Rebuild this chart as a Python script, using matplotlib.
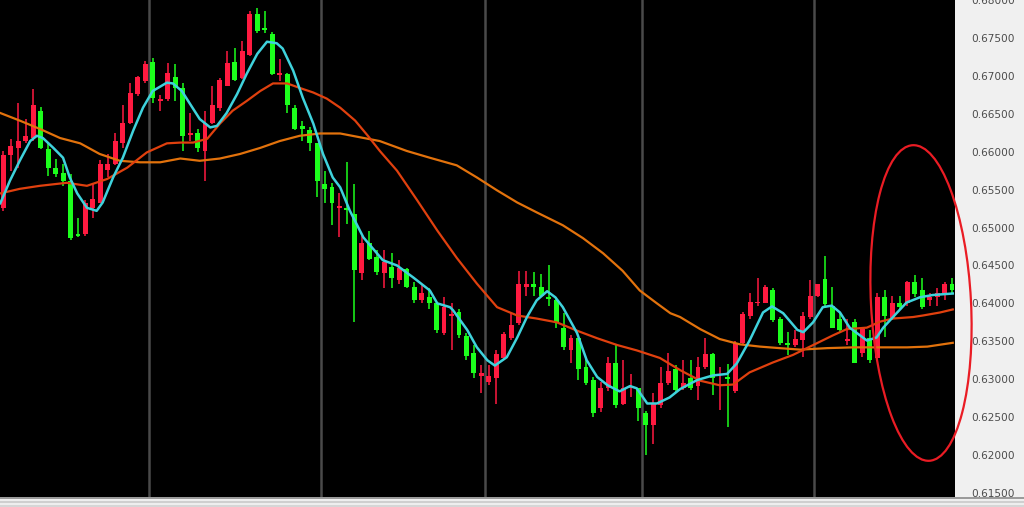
import numpy as np
import matplotlib
matplotlib.use("Agg")
import matplotlib.pyplot as plt
from matplotlib.patches import Ellipse
from matplotlib.lines import Line2D
from matplotlib.ticker import FuncFormatter

# OHLC per bar
opens = [0.6526, 0.6595, 0.6605, 0.6614, 0.6618, 0.6654, 0.6604, 0.6579, 0.6572, 0.6562,
         0.6492, 0.6492, 0.6526, 0.6533, 0.6576, 0.6584, 0.6612, 0.6638, 0.6676, 0.6693,
         0.6718, 0.6667, 0.6670, 0.6699, 0.6684, 0.6622, 0.6624, 0.6601, 0.6638, 0.6657,
         0.6687, 0.6718, 0.6697, 0.6728, 0.6782, 0.6763, 0.6755, 0.6701, 0.6703, 0.6658,
         0.6634, 0.6629, 0.6611, 0.6558, 0.6553, 0.6526, 0.6526, 0.6518, 0.6440, 0.6479,
         0.6461, 0.6440, 0.6448, 0.6431, 0.6445, 0.6421, 0.6404, 0.6409, 0.6400, 0.6361,
         0.6383, 0.6388, 0.6357, 0.6334, 0.6304, 0.6296, 0.6302, 0.6328, 0.6355, 0.6374,
         0.6421, 0.6425, 0.6421, 0.6408, 0.6405, 0.6368, 0.6338, 0.6354, 0.6316, 0.6299,
         0.6262, 0.6289, 0.6322, 0.6267, 0.6288, 0.6288, 0.6255, 0.6240, 0.6266, 0.6295,
         0.6313, 0.6288, 0.6301, 0.6291, 0.6316, 0.6333, 0.6291, 0.6303, 0.6284, 0.6348,
         0.6383, 0.6400, 0.6401, 0.6418, 0.6379, 0.6348, 0.6345, 0.6352, 0.6382, 0.6410,
         0.6432, 0.6397, 0.6380, 0.6350, 0.6375, 0.6334, 0.6354, 0.6328, 0.6409, 0.6380,
         0.6401, 0.6400, 0.6428, 0.6417, 0.6405, 0.6408, 0.6414, 0.6425]
highs = [0.6601, 0.6617, 0.6664, 0.6643, 0.6682, 0.6659, 0.6611, 0.6591, 0.6584, 0.6571,
         0.6513, 0.6536, 0.6559, 0.6589, 0.6597, 0.6625, 0.6661, 0.6691, 0.6700, 0.6720,
         0.6724, 0.6675, 0.6717, 0.6716, 0.6690, 0.6651, 0.6630, 0.6654, 0.6687, 0.6697,
         0.6733, 0.6737, 0.6746, 0.6786, 0.6790, 0.6786, 0.6758, 0.6722, 0.6704, 0.6661,
         0.6641, 0.6632, 0.6612, 0.6575, 0.6559, 0.6545, 0.6586, 0.6558, 0.6489, 0.6495,
         0.6470, 0.6470, 0.6467, 0.6457, 0.6446, 0.6428, 0.6424, 0.6420, 0.6401, 0.6408,
         0.6401, 0.6393, 0.6361, 0.6345, 0.6319, 0.6319, 0.6338, 0.6362, 0.6387, 0.6443,
         0.6443, 0.6441, 0.6439, 0.6451, 0.6409, 0.6387, 0.6358, 0.6355, 0.6329, 0.6303,
         0.6296, 0.6329, 0.6347, 0.6325, 0.6307, 0.6289, 0.6258, 0.6282, 0.6316, 0.6334,
         0.6319, 0.6325, 0.6325, 0.6329, 0.6354, 0.6335, 0.6316, 0.6320, 0.6351, 0.6388,
         0.6414, 0.6434, 0.6424, 0.6420, 0.6382, 0.6362, 0.6365, 0.6388, 0.6431, 0.6426,
         0.6463, 0.6421, 0.6387, 0.6380, 0.6380, 0.6368, 0.6365, 0.6414, 0.6417, 0.6410,
         0.6410, 0.6430, 0.6437, 0.6434, 0.6414, 0.6420, 0.6428, 0.6433]
lows = [0.6522, 0.6575, 0.6579, 0.6612, 0.6614, 0.6604, 0.6568, 0.6566, 0.6555, 0.6484,
        0.6487, 0.6489, 0.6513, 0.6532, 0.6566, 0.6582, 0.6605, 0.6637, 0.6674, 0.6691,
        0.6664, 0.6654, 0.6667, 0.6667, 0.6601, 0.6614, 0.6599, 0.6562, 0.6637, 0.6654,
        0.6686, 0.6693, 0.6696, 0.6726, 0.6757, 0.6757, 0.6701, 0.6693, 0.6651, 0.6628,
        0.6614, 0.6601, 0.6540, 0.6532, 0.6503, 0.6487, 0.6505, 0.6375, 0.6431, 0.6457,
        0.6437, 0.6420, 0.6420, 0.6426, 0.6420, 0.6400, 0.6400, 0.6393, 0.6361, 0.6358,
        0.6338, 0.6354, 0.6325, 0.6301, 0.6282, 0.6292, 0.6267, 0.6325, 0.6352, 0.6371,
        0.6410, 0.6410, 0.6408, 0.6397, 0.6368, 0.6338, 0.6321, 0.6299, 0.6292, 0.6250,
        0.6257, 0.6285, 0.6262, 0.6266, 0.6276, 0.6245, 0.6200, 0.6215, 0.6262, 0.6292,
        0.6283, 0.6286, 0.6286, 0.6273, 0.6314, 0.6279, 0.6259, 0.6237, 0.6282, 0.6345,
        0.6380, 0.6396, 0.6400, 0.6375, 0.6345, 0.6332, 0.6342, 0.6329, 0.6380, 0.6408,
        0.6397, 0.6367, 0.6361, 0.6345, 0.6321, 0.6329, 0.6322, 0.6325, 0.6356, 0.6378,
        0.6393, 0.6397, 0.6408, 0.6393, 0.6397, 0.6397, 0.6404, 0.6414]
closes = [0.6595, 0.6608, 0.6614, 0.6621, 0.6661, 0.6605, 0.6579, 0.6571, 0.6562, 0.6486,
          0.6489, 0.6533, 0.6537, 0.6584, 0.6584, 0.6614, 0.6638, 0.6678, 0.6699, 0.6716,
          0.6671, 0.6670, 0.6704, 0.6684, 0.6621, 0.6625, 0.6605, 0.6638, 0.6661, 0.6695,
          0.6717, 0.6695, 0.6733, 0.6782, 0.6759, 0.6761, 0.6703, 0.6704, 0.6661, 0.6630,
          0.6630, 0.6612, 0.6562, 0.6551, 0.6533, 0.6529, 0.6523, 0.6444, 0.6479, 0.6459,
          0.6441, 0.6454, 0.6434, 0.6446, 0.6421, 0.6404, 0.6414, 0.6400, 0.6365, 0.6395,
          0.6386, 0.6358, 0.6330, 0.6308, 0.6308, 0.6304, 0.6333, 0.6360, 0.6372, 0.6426,
          0.6425, 0.6421, 0.6410, 0.6406, 0.6374, 0.6342, 0.6355, 0.6314, 0.6295, 0.6255,
          0.6288, 0.6321, 0.6266, 0.6289, 0.6291, 0.6262, 0.6240, 0.6268, 0.6295, 0.6311,
          0.6286, 0.6295, 0.6288, 0.6316, 0.6333, 0.6301, 0.6293, 0.6300, 0.6348, 0.6386,
          0.6402, 0.6402, 0.6421, 0.6378, 0.6348, 0.6345, 0.6353, 0.6384, 0.6410, 0.6425,
          0.6399, 0.6368, 0.6365, 0.6353, 0.6322, 0.6366, 0.6325, 0.6408, 0.6384, 0.6401,
          0.6395, 0.6428, 0.6413, 0.6395, 0.6408, 0.6414, 0.6425, 0.6417]

# moving averages, sampled along the bar axis
ma_fast_x = [-0.4, 0.9, 2.2, 3.6, 4.5, 5.3, 6.7, 8.0, 8.9, 9.9, 11.2, 12.5, 13.3, 14.7, 16.0,
             17.4, 18.7, 20.0, 21.9, 22.7, 23.9, 25.0, 26.3, 27.7, 28.6, 29.9, 31.3, 32.6,
             34.0, 35.3, 36.6, 37.4, 38.8, 40.1, 41.5, 42.8, 44.1, 45.1, 46.4, 48.2, 50.8,
             52.7, 54.9, 57.1, 58.1, 59.8, 60.2, 62.1, 63.4, 64.8, 65.8, 67.4, 68.8, 70.1,
             71.4, 72.8, 73.9, 74.9, 76.8, 78.1, 79.5, 80.9, 82.5, 83.9, 84.8, 86.2, 87.5,
             89.2, 90.6, 92.9, 95.0, 96.9, 98.2, 99.9, 101.7, 102.9, 104.4, 106.3, 107.1,
             108.4, 109.7, 110.9, 112.0, 113.3, 115.6, 116.9, 117.8, 119.1, 120.9, 122.7,
             124.4, 127.1]
ma_fast = [0.6532, 0.6562, 0.6588, 0.6614, 0.6621, 0.6618, 0.6605, 0.6592, 0.6566, 0.6545,
           0.6526, 0.6522, 0.6533, 0.6566, 0.6592, 0.6628, 0.6658, 0.6680, 0.6691, 0.6690,
           0.6680, 0.6663, 0.6643, 0.6632, 0.6634, 0.6651, 0.6676, 0.6703, 0.6729, 0.6745,
           0.6743, 0.6736, 0.6707, 0.6671, 0.6637, 0.6597, 0.6566, 0.6553, 0.6522, 0.6487,
           0.6457, 0.6450, 0.6434, 0.6417, 0.6400, 0.6395, 0.6391, 0.6365, 0.6342, 0.6325,
           0.6318, 0.6329, 0.6355, 0.6382, 0.6404, 0.6416, 0.6408, 0.6395, 0.6361, 0.6325,
           0.6303, 0.6292, 0.6284, 0.6291, 0.6288, 0.6268, 0.6268, 0.6276, 0.6287, 0.6299,
           0.6305, 0.6307, 0.6321, 0.6351, 0.6388, 0.6396, 0.6387, 0.6365, 0.6362, 0.6375,
           0.6395, 0.6397, 0.6388, 0.6368, 0.6351, 0.6355, 0.6368, 0.6382, 0.6401, 0.6408,
           0.6411, 0.6413]

ma_mid_x = [-0.4, 2.2, 4.9, 8.5, 11.2, 13.9, 16.6, 19.2, 21.9, 23.7, 25.4, 27.3, 29.0, 30.7,
            32.6, 34.4, 36.1, 38.0, 39.7, 41.5, 43.3, 45.1, 47.1, 48.8, 50.4, 52.7, 55.4,
            58.1, 60.7, 63.4, 66.1, 68.8, 71.4, 74.1, 76.8, 79.5, 82.2, 84.8, 87.9, 90.6,
            93.3, 95.9, 97.7, 99.9, 103.0, 105.7, 108.4, 111.1, 112.9, 115.6, 117.4, 119.1,
            121.8, 123.1, 125.4, 127.1]
ma_mid = [0.6545, 0.6551, 0.6555, 0.6559, 0.6555, 0.6564, 0.6579, 0.6599, 0.6611, 0.6612,
          0.6612, 0.6617, 0.6637, 0.6654, 0.6667, 0.6680, 0.6690, 0.6690, 0.6684, 0.6678,
          0.6670, 0.6658, 0.6641, 0.6621, 0.6601, 0.6575, 0.6536, 0.6496, 0.6460, 0.6426,
          0.6395, 0.6384, 0.6380, 0.6375, 0.6364, 0.6354, 0.6345, 0.6338, 0.6328, 0.6312,
          0.6298, 0.6292, 0.6293, 0.6309, 0.6322, 0.6332, 0.6345, 0.6358, 0.6366, 0.6368,
          0.6376, 0.6380, 0.6382, 0.6384, 0.6388, 0.6392]

ma_slow_x = [-0.4, 2.2, 4.9, 7.6, 10.3, 12.9, 15.6, 18.3, 21.0, 23.7, 26.3, 29.0, 31.7, 34.4,
             37.0, 39.7, 42.4, 45.1, 50.4, 54.0, 57.1, 60.7, 63.4, 66.1, 68.8, 71.4, 74.9,
             77.6, 80.3, 82.9, 85.2, 87.5, 89.3, 90.6, 93.3, 95.9, 98.6, 101.3, 103.9, 106.7,
             110.3, 113.8, 117.6, 121.0, 123.7, 127.1]
ma_slow = [0.6651, 0.6641, 0.6630, 0.6618, 0.6611, 0.6597, 0.6588, 0.6586, 0.6586, 0.6591,
           0.6588, 0.6591, 0.6597, 0.6605, 0.6614, 0.6621, 0.6624, 0.6624, 0.6614, 0.6601,
           0.6592, 0.6582, 0.6566, 0.6549, 0.6533, 0.6520, 0.6503, 0.6486, 0.6466, 0.6443,
           0.6417, 0.6400, 0.6387, 0.6382, 0.6366, 0.6353, 0.6346, 0.6343, 0.6341, 0.6339,
           0.6341, 0.6342, 0.6342, 0.6342, 0.6343, 0.6348]

# day separators (between bars)
day_breaks = [19.5, 42.5, 64.5, 85.5, 108.5]

UP = "#ff1a40"
DOWN = "#1cff1c"

fig = plt.figure(figsize=(10.24, 5.07), dpi=100, facecolor="#f0f0f0")
ax = fig.add_axes([0, 10 / 507, 955 / 1024, 497 / 507])
ax.set_facecolor("black")

for xb in day_breaks:
    ax.axvline(xb, color="#4a4a4a", lw=1.8, zorder=1)

o = np.array(opens)
h = np.array(highs)
l = np.array(lows)
c = np.array(closes)
idx = np.arange(len(o))
cols = np.where(c >= o, UP, DOWN)

ax.vlines(idx, l, h, colors=cols, lw=1.1, zorder=2)
body = np.maximum(np.abs(c - o), 0.00018)
ax.bar(idx, body, bottom=np.minimum(o, c), width=0.66, color=cols, zorder=3)

ax.plot(ma_slow_x, ma_slow, color="#e2720c", lw=1.6, zorder=4)
ax.plot(ma_mid_x, ma_mid, color="#e0400e", lw=1.6, zorder=4)
ax.plot(ma_fast_x, ma_fast, color="#3fd2dc", lw=1.8, zorder=5)

ax.set_xlim(-0.44, 127.4)
ax.set_ylim(0.61447, 0.67987)

ax.yaxis.tick_right()
ax.set_yticks(np.arange(0.615, 0.6801, 0.005))
ax.yaxis.set_major_formatter(FuncFormatter(lambda v, p: f"{v:.5f}"))
ax.tick_params(axis="y", length=0, pad=12, labelsize=7.6, labelcolor="#4c4c4c")
ax.set_xticks([])
for s in ax.spines.values():
    s.set_visible(False)

# highlight ring around the latest bars
ring = Ellipse((9.21, 2.04), 1.0, 3.16, angle=3, fill=False, ec="#ea1c24", lw=1.6,
               transform=fig.dpi_scale_trans, clip_on=False, zorder=10)
fig.patches.append(ring)

# bottom scroll strip
fig.lines.append(Line2D([0, 1], [9.5 / 507, 9.5 / 507], transform=fig.transFigure, color="#8a8a8a", lw=1.2))
fig.lines.append(Line2D([0, 1], [5.5 / 507, 5.5 / 507], transform=fig.transFigure, color="#cfcfcf", lw=1.5))
fig.lines.append(Line2D([0, 1], [1.5 / 507, 1.5 / 507], transform=fig.transFigure, color="#d6d6d6", lw=1.5))

fig.savefig("out.png", dpi=100, facecolor=fig.get_facecolor())
